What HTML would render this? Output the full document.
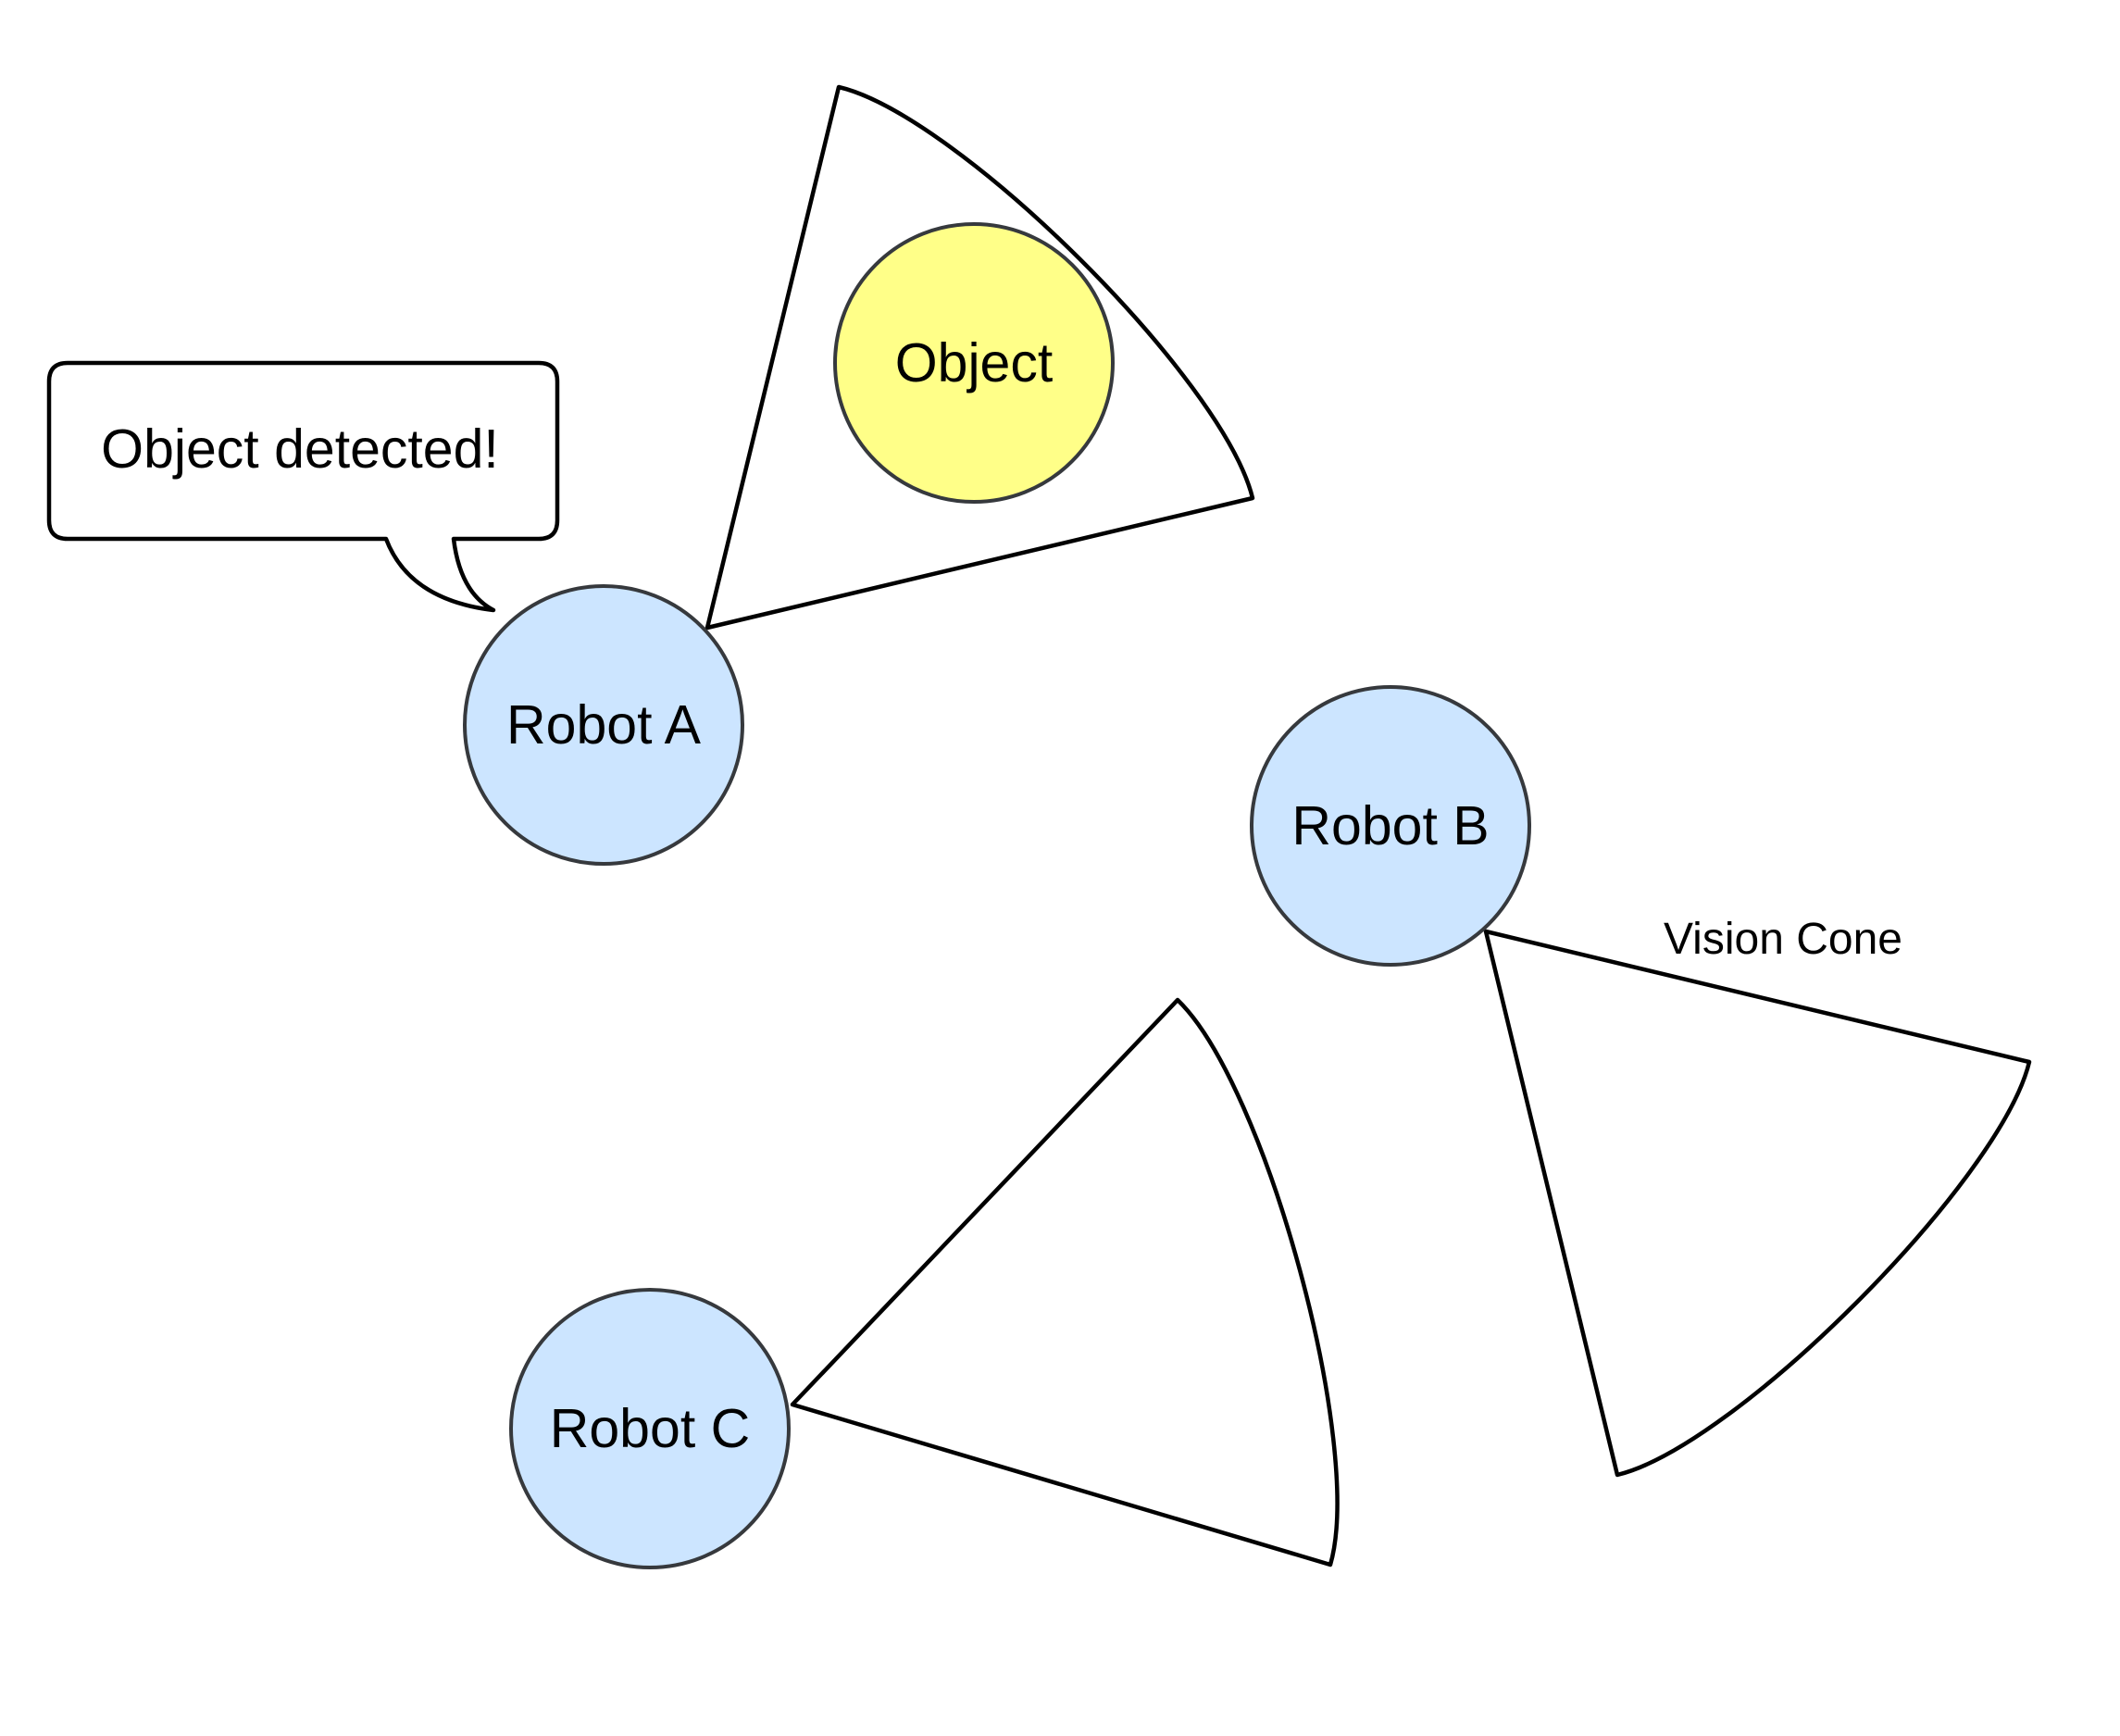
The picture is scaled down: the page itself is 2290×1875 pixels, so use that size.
<!DOCTYPE html>
<html><head><meta charset="utf-8"><style>
html,body{margin:0;padding:0;background:#fff;}
svg{display:block;}
text{font-family:"Liberation Sans",Helvetica,Arial,sans-serif;fill:#000;}
</style></head><body>
<svg width="2290" height="1875" viewBox="0 0 2290 1875" xmlns="http://www.w3.org/2000/svg">
<rect width="2290" height="1875" fill="#fff"/>
<g fill="none" stroke="#000" stroke-width="4.5" stroke-linejoin="round">
<path d="M764 678 L906 94 C1034 124 1322 410 1353 538 Z" fill="#fff"/>
<path d="M1605 1006 L2192 1147 C2161 1275 1875 1562 1747 1593 Z" fill="#fff"/>
<path d="M856 1517 L1272 1080 C1367 1171 1474 1563 1437 1690 Z" fill="#fff"/>
<path d="M73 392 H582 Q602 392 602 412 V562 Q602 582 582 582 H490 Q497 640 533 659 Q442 648 417 582 H73 Q53 582 53 562 V412 Q53 392 73 392 Z" fill="#fff"/>
</g>
<g stroke="#36393d" stroke-width="4">
<circle cx="1052" cy="392" r="150" fill="#ffff88"/>
<circle cx="652" cy="783" r="150" fill="#cce5ff"/>
<circle cx="1502" cy="892" r="150" fill="#cce5ff"/>
<circle cx="702" cy="1543" r="150" fill="#cce5ff"/>
</g>
<g font-size="59" text-anchor="middle">
<text x="1052" y="412">Object</text>
<text x="652" y="803">Robot A</text>
<text x="1502" y="912">Robot B</text>
<text x="702" y="1563">Robot C</text>
<text x="324" y="505">Object detected!</text>
</g>
<text x="1926" y="1030" font-size="48" text-anchor="middle">Vision Cone</text>
</svg>
</body></html>
